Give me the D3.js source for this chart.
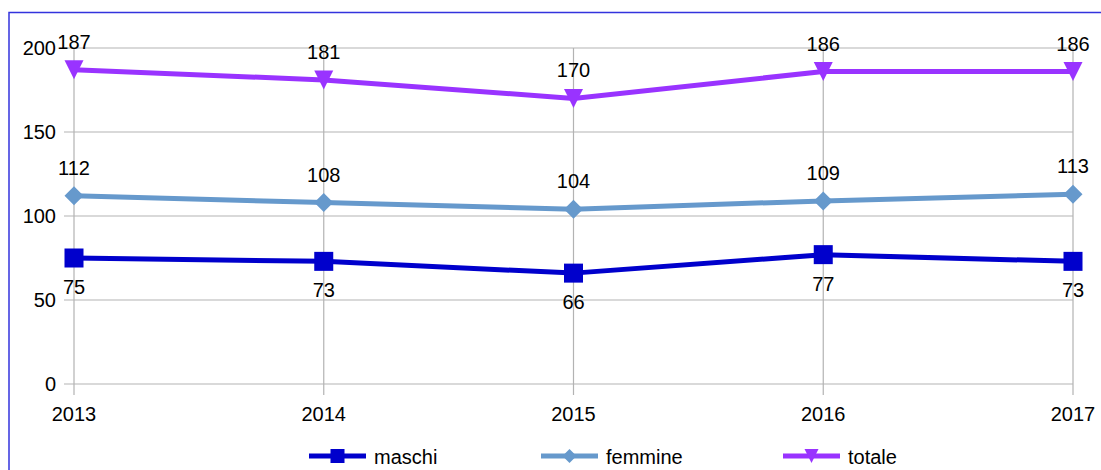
<!DOCTYPE html>
<html>
<meta charset="utf-8">
<script src="https://cdn.jsdelivr.net/npm/d3@7"></script>
<style>
  body { margin: 0; background: #fff; }
  text { font-family: "Liberation Sans", Arial, sans-serif; fill: #000; }
</style>
<body>
<div id="chart"></div>
<script>
var years = ["2013", "2014", "2015", "2016", "2017"];
var maschi = [75, 73, 66, 77, 73];
var femmine = [112, 108, 104, 109, 113];
var totale = [187, 181, 170, 186, 186];
var yTicks = [0, 50, 100, 150, 200];

var width = 1101, height = 470;
var svg = d3.select("#chart").append("svg")
    .attr("width", width)
    .attr("height", height);

// blue frame round the chart
svg.append("rect")
    .attr("x", 9).attr("y", 12.5)
    .attr("width", 1100).attr("height", 470)
    .attr("fill", "none")
    .attr("stroke", "#3333dd")
    .attr("stroke-width", 1.5);

var x = d3.scalePoint()
    .domain(years)
    .range([74, 1073]);

var y = d3.scaleLinear()
    .domain([0, 200])
    .range([384, 48]);

// grid + ticks
var grid = svg.append("g");
grid.selectAll("line.h")
  .data(yTicks)
  .enter().append("line")
    .attr("x1", 64).attr("x2", 1073)
    .attr("y1", function(d) { return y(d); })
    .attr("y2", function(d) { return y(d); })
    .attr("stroke", "#b3b3b3").attr("stroke-width", 1.2);
grid.selectAll("line.v")
  .data(years)
  .enter().append("line")
    .attr("x1", function(d) { return x(d); })
    .attr("x2", function(d) { return x(d); })
    .attr("y1", 48).attr("y2", 395)
    .attr("stroke", "#b3b3b3").attr("stroke-width", 1.2);

svg.selectAll("text.ylab")
  .data(yTicks)
  .enter().append("text")
    .attr("x", 56)
    .attr("y", function(d) { return y(d) + 7; })
    .attr("text-anchor", "end")
    .style("font-size", "20px")
    .text(function(d) { return d; });

svg.selectAll("text.xlab")
  .data(years)
  .enter().append("text")
    .attr("x", function(d) { return x(d); })
    .attr("y", 421)
    .attr("text-anchor", "middle")
    .style("font-size", "20px")
    .text(function(d) { return d; });

var series = [
  { name: "maschi", values: maschi, color: "#0000cc", shape: "square", labelDy: 36 },
  { name: "femmine", values: femmine, color: "#6699cc", shape: "diamond", labelDy: -21 },
  { name: "totale", values: totale, color: "#9933ff", shape: "triangle", labelDy: -21 }
];

function marker(g, shape, color, s) {
  if (shape === "square") {
    g.append("rect").attr("x", -s / 2).attr("y", -s / 2)
      .attr("width", s).attr("height", s).attr("fill", color);
  } else if (shape === "diamond") {
    g.append("path").attr("d", "M0," + (-s / 2) + "L" + (s / 2) + ",0L0," + (s / 2) + "L" + (-s / 2) + ",0Z")
      .attr("fill", color);
  } else {
    g.append("path").attr("d", "M" + (-s / 2) + "," + (-s / 2) + "L" + (s / 2) + "," + (-s / 2) + "L0," + (s / 2) + "Z")
      .attr("fill", color);
  }
}

var line = d3.line()
    .x(function(d, i) { return x(years[i]); })
    .y(function(d) { return y(d); });

series.forEach(function(s) {
  svg.append("path")
    .datum(s.values)
    .attr("d", line)
    .attr("fill", "none")
    .attr("stroke", s.color)
    .attr("stroke-width", 5);

  s.values.forEach(function(v, i) {
    var g = svg.append("g")
      .attr("transform", "translate(" + x(years[i]) + "," + y(v) + ")");
    marker(g, s.shape, s.color, 19);
  });

  svg.selectAll(null)
    .data(s.values)
    .enter().append("text")
      .attr("x", function(d, i) { return x(years[i]); })
      .attr("y", function(d) { return y(d) + s.labelDy; })
      .attr("text-anchor", "middle")
      .style("font-size", "20px")
      .text(function(d) { return d; });
});

// legend
var legendX = [309, 541, 783];
series.forEach(function(s, i) {
  var g = svg.append("g").attr("transform", "translate(" + legendX[i] + ",456)");
  g.append("line").attr("x1", 0).attr("x2", 57)
    .attr("stroke", s.color).attr("stroke-width", 5);
  var m = g.append("g").attr("transform", "translate(28.5,0)");
  marker(m, s.shape, s.color, 14);
  g.append("text")
    .attr("x", 65).attr("y", 7.5)
    .style("font-size", "20px")
    .text(s.name);
});
</script>
</body>
</html>
